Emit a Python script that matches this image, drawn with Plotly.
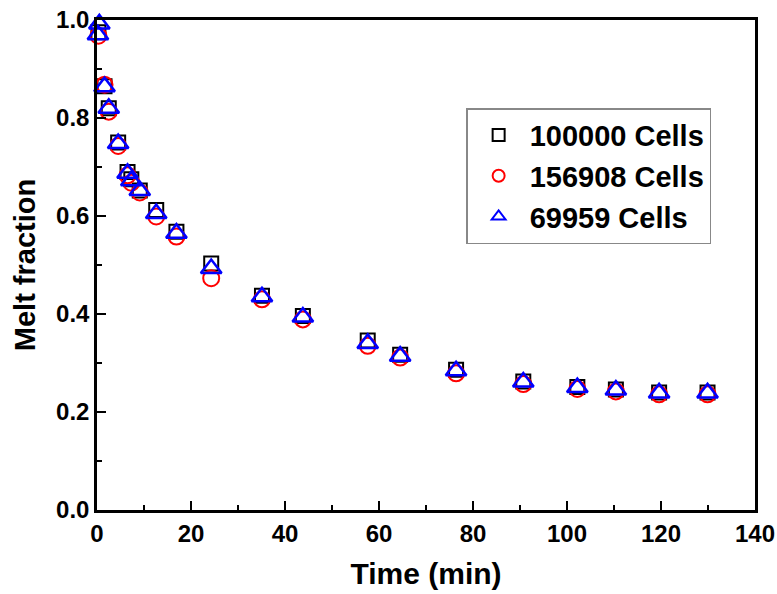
import plotly.graph_objects as go

# Data
t_sq = [0.3, 1.6, 2.5, 4.5, 6.5, 7.3, 9.1, 12.6, 16.9, 24.3, 35.1, 43.8, 57.6, 64.5, 76.4, 90.7, 102.2, 110.4, 119.6, 129.9]
y_sq = [0.975, 0.865, 0.82, 0.75, 0.69, 0.675, 0.652, 0.612, 0.568, 0.503, 0.437, 0.396, 0.346, 0.317, 0.286, 0.262, 0.251, 0.246, 0.240, 0.240]

t_ci = [0.3, 1.6, 2.5, 4.5, 6.5, 7.3, 9.1, 12.6, 16.9, 24.3, 35.1, 43.8, 57.6, 64.5, 76.4, 90.7, 102.2, 110.4, 119.6, 129.9]
y_ci = [0.968, 0.868, 0.813, 0.743, 0.683, 0.668, 0.648, 0.599, 0.558, 0.473, 0.430, 0.389, 0.335, 0.311, 0.279, 0.257, 0.247, 0.242, 0.236, 0.236]

t_tr = [0.5, 0.2, 1.6, 2.5, 4.5, 6.5, 7.3, 9.1, 12.6, 16.9, 24.3, 35.1, 43.8, 57.6, 64.5, 76.4, 90.7, 102.2, 110.4, 119.6, 129.9]
y_tr = [0.992, 0.97, 0.864, 0.82, 0.748, 0.687, 0.672, 0.652, 0.605, 0.565, 0.493, 0.435, 0.394, 0.340, 0.314, 0.284, 0.261, 0.250, 0.245, 0.239, 0.239]

names = ["100000 Cells", "156908 Cells", "69959 Cells"]
x_ticks = [0, 20, 40, 60, 80, 100, 120, 140]
y_ticks = [0.0, 0.2, 0.4, 0.6, 0.8, 1.0]

FONT = "Liberation Sans, Arial"

fig = go.Figure()
fig.add_trace(go.Scatter(x=t_sq, y=y_sq, mode="markers", name=names[0],
                         marker=dict(symbol="square-open", size=14, color="black",
                                     line=dict(width=2, color="black")), cliponaxis=False))
fig.add_trace(go.Scatter(x=t_ci, y=y_ci, mode="markers", name=names[1],
                         marker=dict(symbol="circle-open", size=16, color="red",
                                     line=dict(width=2, color="red")), cliponaxis=False))
fig.add_trace(go.Scatter(x=t_tr, y=y_tr, mode="markers", name=names[2],
                         marker=dict(symbol="triangle-up-open", size=18, color="blue",
                                     line=dict(width=2.5, color="blue")), cliponaxis=False))

tickfont = dict(family=FONT, size=24, color="black", weight="bold")

fig.update_layout(
    width=777, height=594,
    margin=dict(l=97, r=22, t=20, b=84, autoexpand=False),
    paper_bgcolor="white", plot_bgcolor="white",
    font=dict(family=FONT, color="black"),
    showlegend=True,
    legend=dict(x=0.561, y=0.82, xanchor="left", yanchor="top",
                bgcolor="white", bordercolor="#888888", borderwidth=1.5,
                font=dict(family=FONT, size=29, color="black", weight="bold"),
                itemsizing="constant", itemwidth=52, tracegroupgap=0),
    xaxis=dict(range=[0, 140], tickvals=x_ticks, ticktext=[str(v) for v in x_ticks],
               automargin=False,
               ticks="inside", ticklen=9, tickwidth=2, tickcolor="black",
               minor=dict(ticks="inside", ticklen=5, tickwidth=2, tickcolor="black", dtick=10, showgrid=False),
               showline=True, linewidth=2.5, linecolor="black", mirror=True,
               showgrid=False, zeroline=False,
               tickfont=tickfont,
               title=dict(text="Time (min)", standoff=18,
                          font=dict(family=FONT, size=30, weight="bold"))),
    yaxis=dict(range=[0, 1.0], tickvals=y_ticks, ticktext=["%.1f" % v for v in y_ticks],
               automargin=False,
               ticks="inside", ticklen=9, tickwidth=2, tickcolor="black",
               minor=dict(ticks="inside", ticklen=5, tickwidth=2, tickcolor="black", dtick=0.1, showgrid=False),
               showline=True, linewidth=2.5, linecolor="black", mirror=True,
               showgrid=False, zeroline=False,
               tickfont=tickfont,
               title=dict(text="Melt fraction", standoff=12,
                          font=dict(family=FONT, size=29, weight="bold"))),
)

fig.write_html("out.html")
